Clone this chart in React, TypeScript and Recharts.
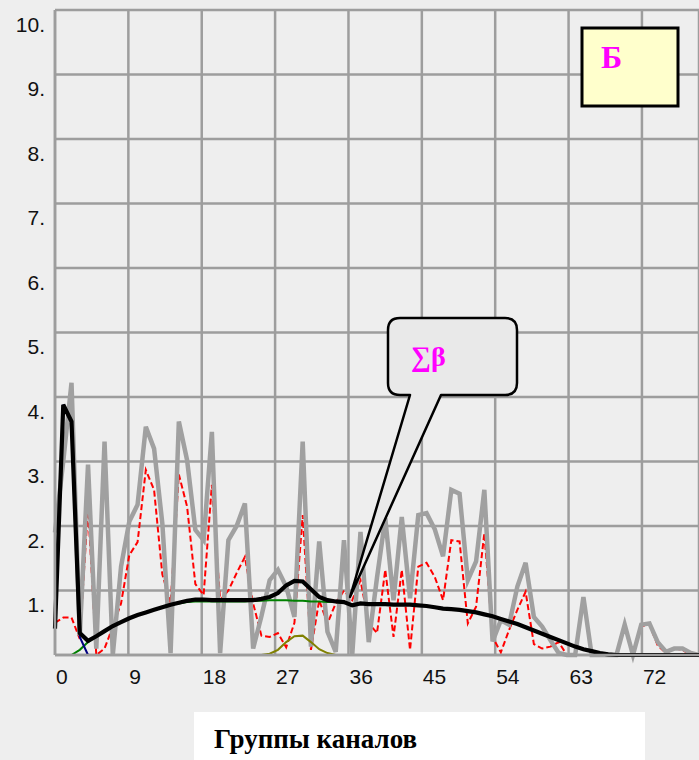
import { CartesianGrid, Line, LineChart, XAxis, YAxis } from "recharts";

// channel groups: one gridline / label every 9 groups
const GROUP_TICKS = [0, 9, 18, 27, 36, 45, 54, 63, 72];
const VALUE_TICKS = [1, 2, 3, 4, 5, 6, 7, 8, 9, 10];

// measured signal per sample (grey)
const SIGNAL = [
  1.9, 3.0, 4.22, 0.3, 2.95, 0.1, 3.31, 0.0, 1.37, 2.07,
  2.33, 3.54, 3.2, 2.04, 0.03, 3.62, 3.02, 1.94, 1.78, 3.46,
  0.03, 1.78, 2.0, 2.35, 0.1, 0.6, 1.16, 1.32, 1.06, 0.59,
  3.31, 0.13, 1.76, 0.36, 0.05, 1.78, 0.0, 1.91, 0.2, 1.2,
  2.12, 0.85, 2.14, 0.88, 2.17, 2.2, 1.95, 1.53, 2.56, 2.5,
  1.16, 1.45, 2.56, 0.21, 0.54, 0.47, 1.06, 1.43, 0.59, 0.44,
  0.23, 0.03, 0.0, 0.0, 0.9, 0.0, 0.0, 0.0, 0.0, 0.47,
  0.0, 0.47, 0.49, 0.2, 0.05, 0.1, 0.1, 0.03, 0.0,
];

// residual (red dashed)
const RESIDUAL = [
  0.5, 0.58, 0.58, 0.25, 2.3, 0.0, 0.1, 0.44, 0.8, 1.55,
  1.75, 2.87, 2.56, 1.25, 0.8, 2.8, 2.3, 1.1, 0.93, 2.64,
  0.85, 1.0, 1.27, 1.52, 0.8, 0.3, 0.28, 0.34, 0.12, 0.5,
  2.17, 0.08, 0.85, 0.49, 0.8, 1.0, 0.85, 1.16, 0.49, 0.34,
  1.32, 0.28, 1.32, 0.08, 1.37, 1.43, 1.21, 0.85, 1.78, 1.76,
  0.49, 0.75, 1.89, 0.28, 0.04, 0.39, 0.7, 0.98, 0.17, 0.1,
  0.13, 0.2, 0.0, 0.0, 0.85, 0.0, 0.0, 0.0, 0.0, 0.45,
  0.0, 0.45, 0.47, 0.15, 0.03, 0.1, 0.08, 0.0, 0.0,
];

// sum of the beta components (black)
const SUM_BETA = [
  0.41, 3.88, 3.62, 0.34, 0.22, 0.29, 0.37, 0.45, 0.51, 0.57,
  0.62, 0.66, 0.7, 0.74, 0.78, 0.81, 0.84, 0.86, 0.86, 0.85,
  0.85, 0.85, 0.85, 0.85, 0.85, 0.87, 0.9, 0.96, 1.08, 1.15,
  1.14, 1.02, 0.9, 0.85, 0.83, 0.82, 0.77, 0.8, 0.79, 0.79,
  0.79, 0.78, 0.78, 0.78, 0.77, 0.76, 0.74, 0.72, 0.71, 0.7,
  0.68, 0.66, 0.63, 0.6, 0.56, 0.52, 0.48, 0.43, 0.38, 0.33,
  0.28, 0.23, 0.18, 0.13, 0.09, 0.06, 0.03, 0.01, 0, 0,
  0, 0, 0, 0, 0, 0, 0, 0, 0,
];

// beta components
const BETA_FIRST = [0.41, 3.88, 3.62, 0.28, 0.0];
const BETA_MAIN = [
  null, null, 0.0, 0.08, 0.2, 0.29, 0.37, 0.45, 0.51, 0.57,
  0.62, 0.66, 0.7, 0.74, 0.78, 0.8, 0.82, 0.83, 0.83, 0.83,
  0.83, 0.83, 0.83, 0.83, 0.84, 0.84, 0.85, 0.85, 0.85, 0.84,
  0.84, 0.83, 0.83, 0.82, 0.82, 0.81,
];
const BETA_BUMP_START = 25;
const BETA_BUMP = [0.0, 0.02, 0.08, 0.2, 0.29, 0.3, 0.2, 0.09, 0.03, 0.0];

const rows = SUM_BETA.map((sum, i) => ({
  i,
  sum,
  signal: SIGNAL[i],
  residual: RESIDUAL[i],
  first: i < BETA_FIRST.length ? BETA_FIRST[i] : null,
  main: i < BETA_MAIN.length ? BETA_MAIN[i] : null,
  bump:
    i >= BETA_BUMP_START && i < BETA_BUMP_START + BETA_BUMP.length
      ? BETA_BUMP[i - BETA_BUMP_START]
      : null,
}));

const W = 699;
const H = 760;
const PLOT_BOTTOM = 655;
const GRID = "#9d9d9d";
const SANS = "Arial, 'Liberation Sans', sans-serif";
const SERIF = "'Times New Roman', 'Liberation Serif', serif";

function ValueTick({ y, payload }: any) {
  return (
    <text x={45} y={y + 14} textAnchor="end" dominantBaseline="central" fontSize={21} fontFamily={SANS} fill="#111">
      {payload.value}.
    </text>
  );
}

function GroupTick({ x, payload }: any) {
  return (
    <text x={x + 1} y={PLOT_BOTTOM + 21} textAnchor="start" dominantBaseline="central" fontSize={21} fontFamily={SANS} fill="#111">
      {payload.value}
    </text>
  );
}

export default function App() {
  return (
    <div style={{ position: "fixed", left: 0, top: 0, width: W, height: H, background: "#eeeeee", overflow: "hidden" }}>
      <LineChart width={W} height={H} data={rows} margin={{ top: 10, right: 0, bottom: 65, left: 0 }}>
        <XAxis
          xAxisId="groups"
          dataKey="i"
          type="number"
          domain={[0, 79]}
          ticks={GROUP_TICKS}
          interval={0}
          height={40}
          tickLine={false}
          axisLine={{ stroke: GRID, strokeWidth: 2.5 }}
          tick={GroupTick}
        />
        {/* samples sit slightly wider apart than the group grid */}
        <XAxis xAxisId="samples" dataKey="i" type="number" domain={[0, 77.3]} hide />
        <YAxis
          domain={[0, 10]}
          ticks={VALUE_TICKS}
          interval={0}
          width={55}
          tickLine={false}
          axisLine={{ stroke: GRID, strokeWidth: 2.5 }}
          tick={ValueTick}
        />
        <CartesianGrid xAxisId="groups" stroke={GRID} strokeWidth={2.5} />
        <Line xAxisId="samples" dataKey="residual" stroke="#ff0000" strokeWidth={2} strokeDasharray="6 3" dot={false} isAnimationActive={false} />
        <Line xAxisId="samples" dataKey="signal" stroke="#a0a0a0" strokeWidth={4.5} dot={false} isAnimationActive={false} />
        <Line xAxisId="samples" dataKey="bump" stroke="#808000" strokeWidth={2} dot={false} connectNulls={false} isAnimationActive={false} />
        <Line xAxisId="samples" dataKey="main" stroke="#008000" strokeWidth={2} dot={false} connectNulls={false} isAnimationActive={false} />
        <Line xAxisId="samples" dataKey="first" stroke="#000080" strokeWidth={2} dot={false} connectNulls={false} isAnimationActive={false} />
        <Line xAxisId="samples" dataKey="sum" stroke="#000000" strokeWidth={4.2} dot={false} isAnimationActive={false} />
      </LineChart>

      <svg width={W} height={H} style={{ position: "absolute", left: 0, top: 0, pointerEvents: "none" }}>
        {/* panel tag */}
        <rect x={582} y={28} width={96} height={78} fill="#ffffcc" stroke="#000" strokeWidth={3} />
        <text x={601} y={68} fill="#ff00ff" fontSize={32} fontWeight="bold" fontFamily={SERIF}>
          Б
        </text>

        {/* callout pointing at the summed curve */}
        <path
          d="M 400 318 H 505 Q 517 318 517 330 V 383 Q 517 395 505 395 H 441 L 350 597 L 410 395 H 400 Q 388 395 388 383 V 330 Q 388 318 400 318 Z"
          fill="#e9e9e9"
          stroke="#000"
          strokeWidth={2.5}
          strokeLinejoin="round"
        />
        <text x={411} y={366} fill="#ff00ff" fontSize={28} fontWeight="bold" fontFamily={SERIF}>
          ∑β
        </text>

        {/* axis title */}
        <rect x={194} y={712} width={451} height={60} fill="#ffffff" />
        <text x={214} y={748} fill="#000" fontSize={27} fontWeight="bold" fontFamily={SERIF}>
          Группы каналов
        </text>
      </svg>
    </div>
  );
}
